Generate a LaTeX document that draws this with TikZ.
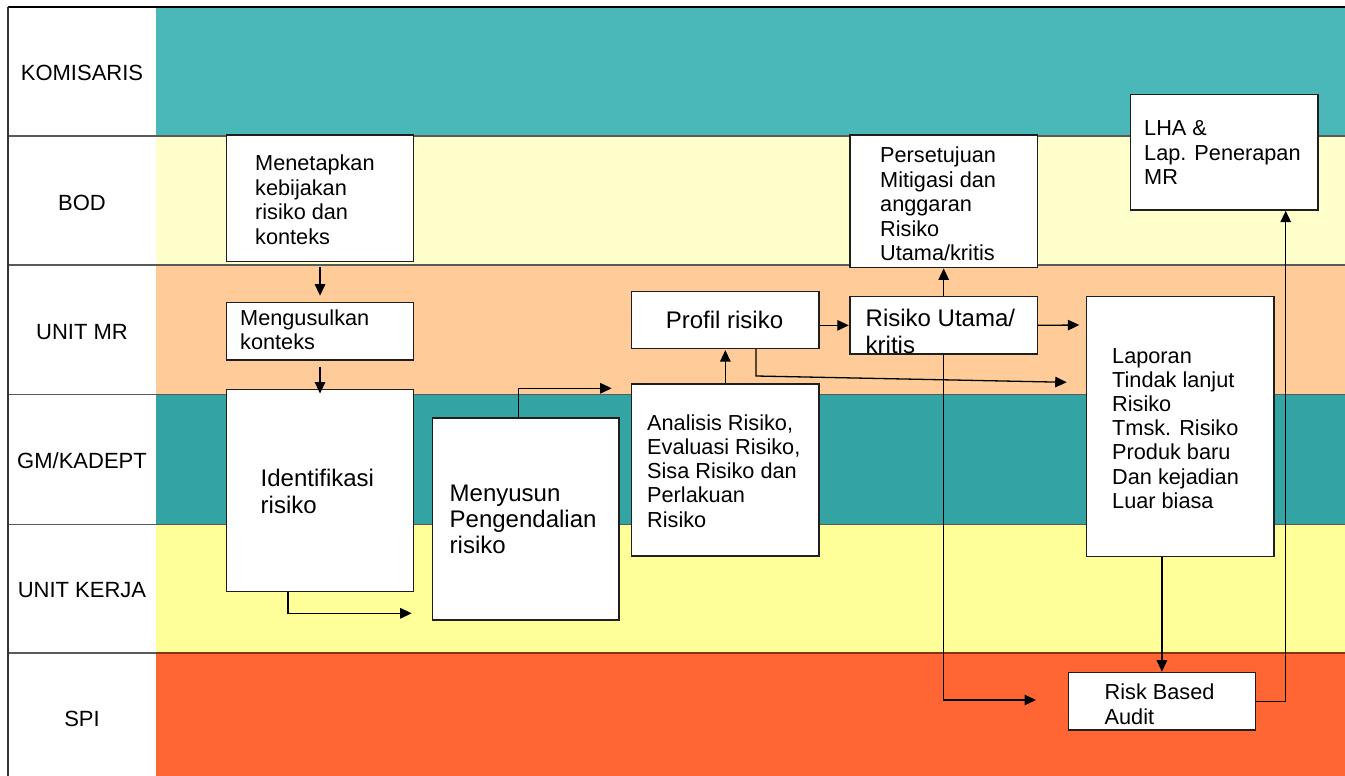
\documentclass[tikz,border=0pt]{standalone}
\usepackage{fontspec}
\setmainfont{Liberation Sans}
\usetikzlibrary{arrows.meta,calc}
\definecolor{komis}{RGB}{74,184,184}
\definecolor{bodc}{RGB}{255,255,204}
\definecolor{unitmr}{RGB}{255,204,153}
\definecolor{gmk}{RGB}{51,163,163}
\definecolor{kerja}{RGB}{255,255,153}
\definecolor{spic}{RGB}{255,102,51}
\definecolor{sepline}{RGB}{90,90,90}
\definecolor{spiline}{RGB}{140,50,20}
\newcommand\fsz[2]{\fontsize{#1pt}{#2pt}\selectfont}
\begin{document}
\begin{tikzpicture}[x=1pt,y=-1pt,
  box/.style={draw=black!88,line width=1.4pt,fill=white,inner sep=0pt,anchor=north west},
  txt/.style={anchor=north west,inner sep=0pt,align=left},
  lane/.style={anchor=base,inner sep=0pt,font=\fsz{22}{26}},
  arr/.style={line width=1.3pt,-{Triangle[length=11.5pt,width=10.5pt]}},
  sep/.style={draw=sepline,line width=1.3pt}]
\useasboundingbox (0,0) rectangle (1345,776);
% lanes
\fill[komis] (156,7) rectangle (1345,136);
\fill[bodc] (156,136) rectangle (1345,265);
\fill[unitmr] (156,265) rectangle (1345,394.5);
\fill[gmk] (156,394.5) rectangle (1345,524);
\fill[kerja] (156,524) rectangle (1345,653);
\fill[spic] (156,653) rectangle (1345,776);
\draw[line width=1.4pt,black] (8,7) -- (1345,7);
\draw[sep] (8,136) -- (1345,136);
\draw[sep] (8,265) -- (1345,265);
\draw[sep] (8,394.5) -- (1345,394.5);
\draw[draw=sepline,line width=1pt] (8,524) -- (1345,524);
\draw[sep] (8,653) -- (156,653);
\draw[draw=spiline,line width=1.3pt] (156,653) -- (1345,653);
\draw[line width=1.4pt,black!80] (8,7) -- (8,776);
% lane labels
\node[lane] (l1) at (82,81) {KOMISARIS};
\node[lane] (l2) at (82,210) {BOD};
\node[lane] (l3) at (82,339.5) {UNIT MR};
\node[lane] (l4) at (82,468) {GM/KADEPT};
\node[lane] (l5) at (82,597) {UNIT KERJA};
\node[lane] (l6) at (82,726) {SPI};
% boxes
\node[box,minimum width=186.7pt,minimum height=126.4pt] (b1) at (226,134.3) {};
\node[box,minimum width=186.7pt,minimum height=57.3pt] (b2) at (226,302) {};
\node[box,minimum width=186.7pt,minimum height=201.7pt] (b3) at (226,389) {};
\node[box,minimum width=186.6pt,minimum height=202pt] (b4) at (431.7,417.3) {};
\node[box,minimum width=187.3pt,minimum height=172pt] (b5) at (631,383.3) {};
\node[box,minimum width=187.3pt,minimum height=57pt] (b6) at (631,290.7) {};
\node[box,minimum width=187.4pt,minimum height=57.3pt] (b7) at (849.3,296) {};
\node[box,minimum width=187.4pt,minimum height=132.7pt] (b8) at (849.3,134.3) {};
\node[box,minimum width=187.3pt,minimum height=115.3pt] (b9) at (1130,94) {};
\node[box,minimum width=187.3pt,minimum height=259.7pt] (b10) at (1086,296) {};
\node[box,minimum width=187pt,minimum height=57.6pt] (b11) at (1067.7,671.7) {};
% texts
\node[txt,font=\fsz{21.7}{24.8}] (t1) at (255,{170-0.7*24.8}) {\strut Menetapkan\\\strut kebijakan\\\strut risiko dan\\\strut konteks};
\node[txt,font=\fsz{21.7}{24}] (t2) at (240,{325-0.7*24}) {\strut Mengusulkan\\\strut konteks};
\node[txt,font=\fsz{24}{27.7}] (t3) at (260.5,{486-0.7*27.7}) {\strut Identifikasi\\\strut risiko};
\node[txt,font=\fsz{24}{26}] (t4) at (449.5,{501.7-0.7*26}) {\strut Menyusun\\\strut Pengendalian\\\strut risiko};
\node[txt,font=\fsz{21.7}{24.2}] (t5) at (647,{430-0.7*24.2}) {\strut Analisis Risiko,\\\strut Evaluasi Risiko,\\\strut Sisa Risiko dan\\\strut Perlakuan\\\strut Risiko};
\node[anchor=base,inner sep=0pt,font=\fsz{24}{27}] (t6) at (724.5,328.3) {Profil risiko};
\node[txt,font=\fsz{24}{26.7}] (t7) at (865.5,{326.7-0.7*26.7}) {\strut Risiko Utama/\\\strut kritis};
\node[txt,font=\fsz{21.7}{24.4}] (t8) at (880,{162.7-0.7*24.4}) {\strut Persetujuan\\\strut Mitigasi dan\\\strut anggaran\\\strut Risiko\\\strut Utama/kritis};
\node[txt,font=\fsz{21.7}{24.5}] (t9) at (1144,{135.3-0.7*24.5}) {\strut LHA \&\\\strut Lap. Penerapan\\\strut MR};
\node[txt,font=\fsz{21.7}{24.2}] (t10) at (1112,{362.8-0.7*24.2}) {\strut Laporan\\\strut Tindak lanjut\\\strut Risiko\\\strut Tmsk. Risiko\\\strut Produk baru\\\strut Dan kejadian\\\strut Luar biasa};
\node[txt,font=\fsz{21.7}{25}] (t11) at (1104.5,{699.5-0.7*25}) {\strut Risk Based\\\strut Audit};
% free ends and corners
\coordinate (e3) at (411.7,613.3);
\coordinate (e4) at (611.7,388.3);
\coordinate (c7) at (756,376);
\coordinate (e7) at (1066.7,382.3);
\coordinate (e9) at (1079.3,325);
\coordinate (e10) at (1036,700);
% connectors
\draw[arr,shorten <=5.3pt,shorten >=6.3pt] (b1.south) -- (b2.north);
\draw[arr,shorten <=6pt,shorten >=-4.5pt] (b2.south) -- (b3.north);
\draw[arr] (b3.south -| 288,0) |- (e3);
\draw[arr] (b4.north -| 518.7,0) |- (e4);
\draw[arr,shorten >=1pt] (b5.north) -- (b6.south);
\draw[arr,shorten >=0.5pt] (b6.east |- b7.west) -- (b7.west);
\draw[arr] (b6.south -| c7) -- (c7) -- (e7);
\draw[arr] (b7.north) -- (b8.south);
\draw[arr] (b7.east) -- (e9);
\draw[arr] (b7.south) |- (e10);
\draw[arr] (b10.south -| b11.north) -- (b11.north);
\draw[arr] (b11.east) -| (b9.south -| 1285.7,0);
\end{tikzpicture}
\end{document}
